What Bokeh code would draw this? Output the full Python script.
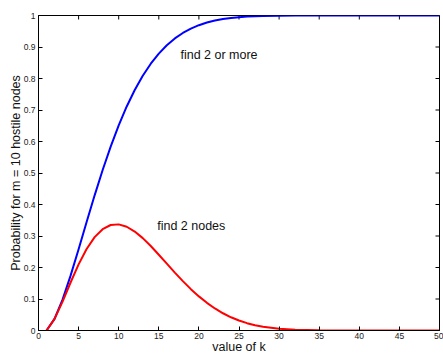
import math
from bokeh.plotting import figure
from bokeh.models import FixedTicker, CustomJSTickFormatter, Range1d
from bokeh.core.properties import value
from bokeh.embed import file_html
from bokeh.resources import INLINE

# ---- data ----
k_values = [1, 2, 3, 4, 5, 6, 7, 8, 9, 10, 11, 12, 13, 14, 15, 16, 17, 18, 19, 20,
            21, 22, 23, 24, 25, 26, 27, 28, 30, 32, 35, 40, 45, 50]
p_two_or_more = [0.0, 0.0367, 0.0980, 0.1742, 0.2581, 0.3444, 0.4291, 0.5095, 0.5839, 0.6513,
                 0.7112, 0.7636, 0.8086, 0.8469, 0.8790, 0.9055, 0.9272, 0.9446, 0.9584, 0.9692,
                 0.9776, 0.9839, 0.9887, 0.9922, 0.9947, 0.9965, 0.9977, 0.9986, 0.9995, 0.9998,
                 1.0, 1.0, 1.0, 1.0]
p_exactly_two = [0.0, 0.0367, 0.0918, 0.1524, 0.2098, 0.2588, 0.2965, 0.3217, 0.3349, 0.3369,
                 0.3294, 0.3142, 0.2932, 0.2681, 0.2406, 0.2121, 0.1838, 0.1567, 0.1313, 0.1083,
                 0.0878, 0.0699, 0.0547, 0.0420, 0.0316, 0.0233, 0.0168, 0.0118, 0.0053, 0.0021,
                 0.0004, 0.0, 0.0, 0.0]
x_ticks = [0, 5, 10, 15, 20, 25, 30, 35, 40, 45, 50]
y_ticks = [0, 0.1, 0.2, 0.3, 0.4, 0.5, 0.6, 0.7, 0.8, 0.9, 1.0]
labels = ["find 2 or more", "find 2 nodes"]
label_x = [17.7, 14.8]
label_y = [0.876, 0.333]

FONT = "Liberation Sans"

p = figure(width=443, height=356, output_backend="svg", toolbar_location=None,
           x_range=Range1d(0, 50), y_range=Range1d(0, 1),
           min_border_left=38, min_border_right=4, min_border_top=15, min_border_bottom=25)
p.background_fill_color = "white"
p.border_fill_color = "white"
p.outline_line_color = "black"
p.outline_line_width = 1
p.xgrid.visible = False
p.ygrid.visible = False

fmt = CustomJSTickFormatter(code="return String(Math.round(tick*10)/10);")

for ax in p.xaxis:
    ax.ticker = FixedTicker(ticks=x_ticks)
    ax.axis_label = "value of k"
for ax in p.yaxis:
    ax.ticker = FixedTicker(ticks=y_ticks)
    ax.formatter = fmt
    ax.axis_label = "Probability for m = 10 hostile nodes"

for ax in list(p.xaxis) + list(p.yaxis):
    ax.major_tick_in = 4
    ax.major_tick_out = 0
    ax.minor_tick_line_color = None
    ax.major_label_text_font = FONT
    ax.major_label_text_font_size = "8.5px"
    ax.major_label_text_color = "#222222"
    ax.axis_label_text_font = FONT
    ax.axis_label_text_font_size = "12.5px"
    ax.axis_label_text_font_style = "normal"
    ax.axis_label_text_color = "#111111"
    ax.axis_line_color = "black"
    ax.major_tick_line_color = "black"

for ax in p.xaxis:
    ax.major_label_standoff = 2
    ax.axis_label_standoff = -2
for ax in p.yaxis:
    ax.major_label_standoff = 3
    ax.axis_label_standoff = -2

# inward ticks on the top and right edges of the box (clipped to the frame)
p.scatter(x=x_ticks, y=[y_ticks[-1]] * len(x_ticks), marker="dash", angle=math.pi / 2,
          size=8, line_color="black", line_width=1)
p.scatter(x=[x_ticks[-1]] * len(y_ticks), y=y_ticks, marker="dash",
          size=8, line_color="black", line_width=1)

p.line(k_values, p_two_or_more, line_color="#0000ff", line_width=2)
p.line(k_values, p_exactly_two, line_color="#ff0000", line_width=2)

p.text(x=label_x, y=label_y, text=labels, text_font=value(FONT), text_font_size="12.5px",
       text_baseline="middle", text_align="left", text_color="#111111")

open("out.html", "w").write(file_html(p, INLINE))
